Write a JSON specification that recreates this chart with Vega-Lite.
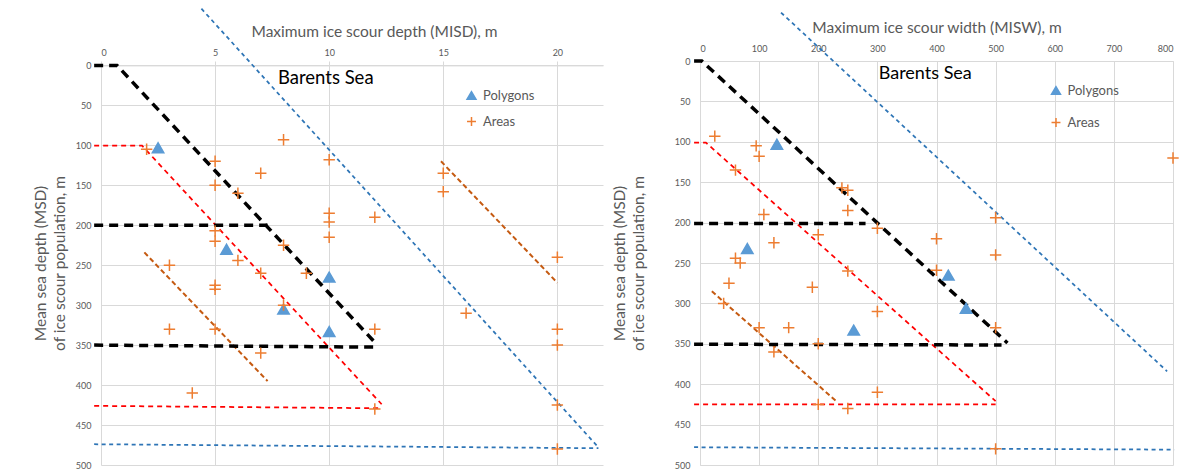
{
  "$schema": "https://vega.github.io/schema/vega-lite/v6.json",
  "background": "white",
  "padding": {"left": 33, "top": 5, "right": 5, "bottom": 0},
  "bounds": "flush",
  "spacing": 97,
  "config": {
    "font": "Lato",
    "view": {"stroke": null},
    "axis": {"labelColor": "#595959", "labelFontSize": 9, "labelFont": "Lato", "titleColor": "#595959", "titleFont": "Lato", "titleFontSize": 15.5, "titleFontWeight": "normal", "gridColor": "#D9D9D9", "gridWidth": 1, "domainColor": "#D9D9D9", "ticks": false, "tickSize": 0, "labelPadding": 8, "titleLineHeight": 19},
    "axisX": {"titlePadding": 9},
    "axisY": {"titlePadding": 8, "labelPadding": 10},
    "legend": {"title": null, "labelFont": "Lato", "labelFontSize": 13, "labelColor": "#595959", "symbolSize": 80, "symbolStrokeWidth": 1.5, "padding": 0, "labelOffset": 5}
  },
  "datasets": {
    "depthPoints": [
      {"x": 2.5, "y": 103, "type": "Polygons"}, {"x": 5.5, "y": 230, "type": "Polygons"}, {"x": 8, "y": 305, "type": "Polygons"}, {"x": 10, "y": 265, "type": "Polygons"}, {"x": 10, "y": 333, "type": "Polygons"},
      {"x": 2, "y": 105, "type": "Areas"}, {"x": 8, "y": 93, "type": "Areas"}, {"x": 5, "y": 120, "type": "Areas"}, {"x": 10, "y": 118, "type": "Areas"}, {"x": 7, "y": 135, "type": "Areas"},
      {"x": 5, "y": 150, "type": "Areas"}, {"x": 6, "y": 160, "type": "Areas"}, {"x": 15, "y": 135, "type": "Areas"}, {"x": 15, "y": 158, "type": "Areas"}, {"x": 10, "y": 185, "type": "Areas"},
      {"x": 10, "y": 196, "type": "Areas"}, {"x": 12, "y": 190, "type": "Areas"}, {"x": 10, "y": 215, "type": "Areas"}, {"x": 5, "y": 207, "type": "Areas"}, {"x": 5, "y": 220, "type": "Areas"},
      {"x": 8, "y": 225, "type": "Areas"}, {"x": 6, "y": 244, "type": "Areas"}, {"x": 3, "y": 250, "type": "Areas"}, {"x": 7, "y": 260, "type": "Areas"}, {"x": 9, "y": 260, "type": "Areas"},
      {"x": 5, "y": 275, "type": "Areas"}, {"x": 5, "y": 280, "type": "Areas"}, {"x": 8, "y": 300, "type": "Areas"}, {"x": 3, "y": 330, "type": "Areas"}, {"x": 5, "y": 330, "type": "Areas"},
      {"x": 12, "y": 330, "type": "Areas"}, {"x": 16, "y": 310, "type": "Areas"}, {"x": 20, "y": 240, "type": "Areas"}, {"x": 20, "y": 330, "type": "Areas"}, {"x": 20, "y": 350, "type": "Areas"},
      {"x": 7, "y": 360, "type": "Areas"}, {"x": 4, "y": 410, "type": "Areas"}, {"x": 20, "y": 425, "type": "Areas"}, {"x": 12, "y": 430, "type": "Areas"}, {"x": 20, "y": 480, "type": "Areas"}
    ],
    "widthPoints": [
      {"x": 130, "y": 103, "type": "Polygons"}, {"x": 80, "y": 232, "type": "Polygons"}, {"x": 420, "y": 265, "type": "Polygons"}, {"x": 450, "y": 306, "type": "Polygons"}, {"x": 260, "y": 333, "type": "Polygons"},
      {"x": 25, "y": 93, "type": "Areas"}, {"x": 95, "y": 105, "type": "Areas"}, {"x": 100, "y": 118, "type": "Areas"}, {"x": 60, "y": 135, "type": "Areas"}, {"x": 240, "y": 157, "type": "Areas"},
      {"x": 250, "y": 160, "type": "Areas"}, {"x": 250, "y": 185, "type": "Areas"}, {"x": 108, "y": 190, "type": "Areas"}, {"x": 300, "y": 207, "type": "Areas"}, {"x": 200, "y": 215, "type": "Areas"},
      {"x": 125, "y": 225, "type": "Areas"}, {"x": 400, "y": 220, "type": "Areas"}, {"x": 60, "y": 244, "type": "Areas"}, {"x": 68, "y": 250, "type": "Areas"}, {"x": 49, "y": 275, "type": "Areas"},
      {"x": 190, "y": 280, "type": "Areas"}, {"x": 250, "y": 260, "type": "Areas"}, {"x": 400, "y": 259, "type": "Areas"}, {"x": 300, "y": 310, "type": "Areas"}, {"x": 40, "y": 300, "type": "Areas"},
      {"x": 100, "y": 330, "type": "Areas"}, {"x": 150, "y": 330, "type": "Areas"}, {"x": 200, "y": 350, "type": "Areas"}, {"x": 125, "y": 360, "type": "Areas"}, {"x": 300, "y": 410, "type": "Areas"},
      {"x": 200, "y": 425, "type": "Areas"}, {"x": 250, "y": 430, "type": "Areas"}, {"x": 800, "y": 120, "type": "Areas"}, {"x": 500, "y": 194, "type": "Areas"}, {"x": 500, "y": 240, "type": "Areas"},
      {"x": 500, "y": 330, "type": "Areas"}, {"x": 500, "y": 480, "type": "Areas"}
    ],
    "depthLines": [
      {"set": "main", "seg": "m1", "i": 0, "x": -0.3, "y": 0}, {"set": "main", "seg": "m1", "i": 1, "x": 0.7, "y": 0}, {"set": "main", "seg": "m1", "i": 2, "x": 12.05, "y": 348},
      {"set": "main", "seg": "m2", "i": 0, "x": -0.3, "y": 200}, {"set": "main", "seg": "m2", "i": 1, "x": 7.3, "y": 200},
      {"set": "main", "seg": "m3", "i": 0, "x": -0.3, "y": 350}, {"set": "main", "seg": "m3", "i": 1, "x": 12.0, "y": 352.5},
      {"set": "mid", "seg": "r1", "i": 0, "x": -0.3, "y": 100.5}, {"set": "mid", "seg": "r1", "i": 1, "x": 1.8, "y": 100.5}, {"set": "mid", "seg": "r1", "i": 2, "x": 12.3, "y": 424},
      {"set": "mid", "seg": "r2", "i": 0, "x": -0.3, "y": 426}, {"set": "mid", "seg": "r2", "i": 1, "x": 12.2, "y": 429},
      {"set": "max", "seg": "u1", "i": 0, "x": 4.4, "y": -71}, {"set": "max", "seg": "u1", "i": 1, "x": 21.8, "y": 478},
      {"set": "max", "seg": "u2", "i": 0, "x": -0.3, "y": 474}, {"set": "max", "seg": "u2", "i": 1, "x": 21.8, "y": 479},
      {"set": "trend", "seg": "t1", "i": 0, "x": 1.9, "y": 234}, {"set": "trend", "seg": "t1", "i": 1, "x": 7.3, "y": 395},
      {"set": "trend", "seg": "t2", "i": 0, "x": 14.9, "y": 120}, {"set": "trend", "seg": "t2", "i": 1, "x": 20, "y": 272}
    ],
    "widthLines": [
      {"set": "main", "seg": "m1", "i": 0, "x": -10, "y": 0}, {"set": "main", "seg": "m1", "i": 1, "x": 3, "y": 0}, {"set": "main", "seg": "m1", "i": 2, "x": 520, "y": 349},
      {"set": "main", "seg": "m2", "i": 0, "x": -10, "y": 201}, {"set": "main", "seg": "m2", "i": 1, "x": 280, "y": 201},
      {"set": "main", "seg": "m3", "i": 0, "x": -10, "y": 350.5}, {"set": "main", "seg": "m3", "i": 1, "x": 510, "y": 351.5},
      {"set": "mid", "seg": "r1", "i": 0, "x": -10, "y": 101}, {"set": "mid", "seg": "r1", "i": 1, "x": 10, "y": 101}, {"set": "mid", "seg": "r1", "i": 2, "x": 500, "y": 421},
      {"set": "mid", "seg": "r2", "i": 0, "x": -10, "y": 425}, {"set": "mid", "seg": "r2", "i": 1, "x": 500, "y": 425},
      {"set": "max", "seg": "u1", "i": 0, "x": 137, "y": -60}, {"set": "max", "seg": "u1", "i": 1, "x": 790, "y": 384},
      {"set": "max", "seg": "u2", "i": 0, "x": -10, "y": 478}, {"set": "max", "seg": "u2", "i": 1, "x": 802, "y": 481},
      {"set": "trend", "seg": "t1", "i": 0, "x": 20, "y": 285}, {"set": "trend", "seg": "t1", "i": 1, "x": 232, "y": 422}
    ],
    "annotDepth": [{"label": "Barents Sea", "x": 9.85, "y": 15.8}],
    "annotWidth": [{"label": "Barents Sea", "x": 381, "y": 15.7}]
  },
  "resolve": {"scale": {"shape": "independent", "fill": "independent", "stroke": "independent"}, "legend": {"shape": "independent", "fill": "independent", "stroke": "independent"}},
  "hconcat": [
    {
      "width": 502,
      "height": 404,
      "encoding": {
        "x": {"field": "x", "type": "quantitative", "scale": {"domain": [0, 22], "nice": false, "zero": false},
          "axis": {"orient": "top", "title": "Maximum ice scour depth (MISD), m", "values": [0, 5, 10, 15, 20], "offset": -4.4, "titleX": 273}},
        "y": {"field": "y", "type": "quantitative", "scale": {"domain": [-5.5, 500], "reverse": true, "nice": false, "zero": false},
          "axis": {"title": ["Mean sea depth (MSD)", "of ice scour population, m"], "values": [0, 50, 100, 150, 200, 250, 300, 350, 400, 450, 500], "domain": false}}
      },
      "layer": [
        {"data": {"name": "depthLines"}, "transform": [{"filter": "datum.set === 'max'"}], "mark": {"type": "line", "stroke": "#2E75B6", "strokeWidth": 1.75, "strokeDash": [4, 3.5], "clip": false}, "encoding": {"detail": {"field": "seg"}, "order": {"field": "i"}}},
        {"data": {"name": "depthLines"}, "transform": [{"filter": "datum.set === 'trend'"}], "mark": {"type": "line", "stroke": "#C55A11", "strokeWidth": 2, "strokeDash": [5, 3], "clip": false}, "encoding": {"detail": {"field": "seg"}, "order": {"field": "i"}}},
        {"data": {"name": "depthLines"}, "transform": [{"filter": "datum.set === 'mid'"}], "mark": {"type": "line", "stroke": "#FF0000", "strokeWidth": 1.75, "strokeDash": [5, 4], "clip": false}, "encoding": {"detail": {"field": "seg"}, "order": {"field": "i"}}},
        {"data": {"name": "depthLines"}, "transform": [{"filter": "datum.set === 'main'"}], "mark": {"type": "line", "stroke": "#000000", "strokeWidth": 3.5, "strokeDash": [9, 6], "clip": false}, "encoding": {"detail": {"field": "seg"}, "order": {"field": "i"}}},
        {"data": {"name": "depthPoints"}, "mark": {"type": "point", "size": 130, "strokeWidth": 1.5, "opacity": 1},
          "encoding": {
            "shape": {"field": "type", "type": "nominal", "scale": {"domain": ["Polygons", "Areas"], "range": ["triangle-up", "M-1,0L1,0M0,-1L0,1"]}, "legend": {"orient": "none", "legendX": 364, "legendY": 28, "rowPadding": 11}},
            "fill": {"field": "type", "type": "nominal", "scale": {"domain": ["Polygons", "Areas"], "range": ["#5B9BD5", "transparent"]}, "legend": {"orient": "none", "legendX": 364, "legendY": 28, "rowPadding": 11}},
            "stroke": {"field": "type", "type": "nominal", "scale": {"domain": ["Polygons", "Areas"], "range": ["#5B9BD5", "#ED7D31"]}, "legend": {"orient": "none", "legendX": 364, "legendY": 28, "rowPadding": 11}}
          }},
        {"data": {"name": "annotDepth"}, "mark": {"type": "text", "font": "Lato", "fontSize": 18.5, "fill": "#000000"},
          "encoding": {"text": {"field": "label", "type": "nominal"}, "x": {"field": "x", "type": "quantitative"}, "y": {"field": "y", "type": "quantitative"}}}
      ]
    },
    {
      "width": 473,
      "height": 404,
      "encoding": {
        "x": {"field": "x", "type": "quantitative", "scale": {"domain": [0, 800], "nice": false, "zero": false},
          "axis": {"orient": "top", "title": "Maximum ice scour width (MISW), m", "values": [0, 100, 200, 300, 400, 500, 600, 700, 800]}},
        "y": {"field": "y", "type": "quantitative", "scale": {"domain": [0, 500], "reverse": true, "nice": false, "zero": false},
          "axis": {"title": ["Mean sea depth (MSD)", "of ice scour population, m"], "values": [0, 50, 100, 150, 200, 250, 300, 350, 400, 450, 500], "titlePadding": 28}}
      },
      "layer": [
        {"data": {"name": "widthLines"}, "transform": [{"filter": "datum.set === 'max'"}], "mark": {"type": "line", "stroke": "#2E75B6", "strokeWidth": 1.75, "strokeDash": [4, 3.5], "clip": false}, "encoding": {"detail": {"field": "seg"}, "order": {"field": "i"}}},
        {"data": {"name": "widthLines"}, "transform": [{"filter": "datum.set === 'trend'"}], "mark": {"type": "line", "stroke": "#C55A11", "strokeWidth": 2, "strokeDash": [5, 3], "clip": false}, "encoding": {"detail": {"field": "seg"}, "order": {"field": "i"}}},
        {"data": {"name": "widthLines"}, "transform": [{"filter": "datum.set === 'mid'"}], "mark": {"type": "line", "stroke": "#FF0000", "strokeWidth": 1.75, "strokeDash": [5, 4], "clip": false}, "encoding": {"detail": {"field": "seg"}, "order": {"field": "i"}}},
        {"data": {"name": "widthLines"}, "transform": [{"filter": "datum.set === 'main'"}], "mark": {"type": "line", "stroke": "#000000", "strokeWidth": 3.5, "strokeDash": [9, 6], "clip": false}, "encoding": {"detail": {"field": "seg"}, "order": {"field": "i"}}},
        {"data": {"name": "widthPoints"}, "mark": {"type": "point", "size": 130, "strokeWidth": 1.5, "opacity": 1},
          "encoding": {
            "shape": {"field": "type", "type": "nominal", "scale": {"domain": ["Polygons", "Areas"], "range": ["triangle-up", "M-1,0L1,0M0,-1L0,1"]}, "legend": {"orient": "none", "legendX": 349.5, "legendY": 23, "rowPadding": 17}},
            "fill": {"field": "type", "type": "nominal", "scale": {"domain": ["Polygons", "Areas"], "range": ["#5B9BD5", "transparent"]}, "legend": {"orient": "none", "legendX": 349.5, "legendY": 23, "rowPadding": 17}},
            "stroke": {"field": "type", "type": "nominal", "scale": {"domain": ["Polygons", "Areas"], "range": ["#5B9BD5", "#ED7D31"]}, "legend": {"orient": "none", "legendX": 349.5, "legendY": 23, "rowPadding": 17}}
          }},
        {"data": {"name": "annotWidth"}, "mark": {"type": "text", "font": "Lato", "fontSize": 18, "fill": "#000000"},
          "encoding": {"text": {"field": "label", "type": "nominal"}, "x": {"field": "x", "type": "quantitative"}, "y": {"field": "y", "type": "quantitative"}}}
      ]
    }
  ]
}
